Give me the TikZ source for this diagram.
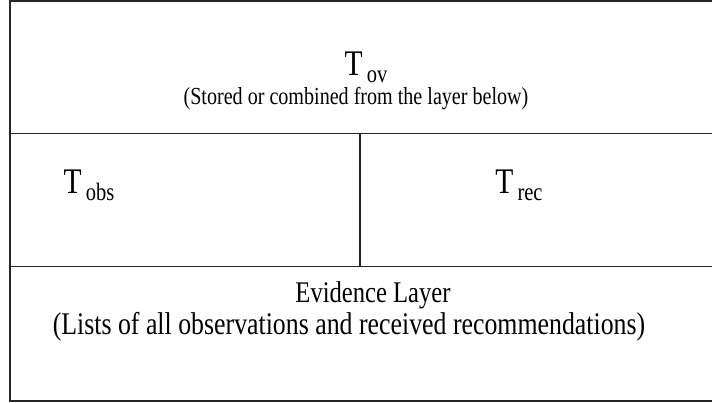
\documentclass[tikz,border=0pt]{standalone}
\usepackage{fontspec}
\setmainfont{Liberation Serif}[FakeStretch=0.82]
\tikzset{
  rule/.style={draw=black!85, line width=1.6pt},
  big/.style={font=\fontsize{36}{38}\selectfont, inner sep=0pt},
  subt/.style={font=\fontsize{24.5}{26}\selectfont, inner sep=0pt},
  subb/.style={font=\fontsize{31.5}{33}\selectfont, inner sep=0pt},
  mid/.style={font=\fontsize{30}{32}\selectfont, inner sep=0pt},
}
\newcommand{\tsub}[1]{T\hspace{4pt}\raisebox{-7pt}{\fontsize{25}{27}\selectfont #1}}
\begin{document}
\begin{tikzpicture}[x=1pt,y=-1pt]
\useasboundingbox (0,0) rectangle (712,402);
\coordinate (tl) at (10,0.8);
\coordinate (tr) at (712,0.8);
\coordinate (bl) at (10,401);
\coordinate (br) at (712,401);
\coordinate (m1l) at (10,133.5);
\coordinate (m1r) at (712,133.5);
\coordinate (m2l) at (10,266.5);
\coordinate (m2r) at (712,266.5);
\coordinate (vt) at (360,133.5);
\coordinate (vb) at (360,266.5);
\draw[rule] (tr) -- (tl) -- (bl) -- (br);
\draw[rule] (m1l) -- (m1r);
\draw[rule] (m2l) -- (m2r);
\draw[rule] (vt) -- (vb);
\node[big] (tov) at (366,67) {\tsub{ov}};
\node[subt] (tovd) at (356,99) {(Stored or combined from the layer below)};
\node[big] (tobs) at (89,185) {\tsub{obs}};
\node[big] (trec) at (519,185) {\tsub{rec}};
\node[mid] (ev) at (373,295) {Evidence Layer};
\node[subb] (evd) at (349,327) {(Lists of all observations and received recommendations)};
\end{tikzpicture}
\end{document}
